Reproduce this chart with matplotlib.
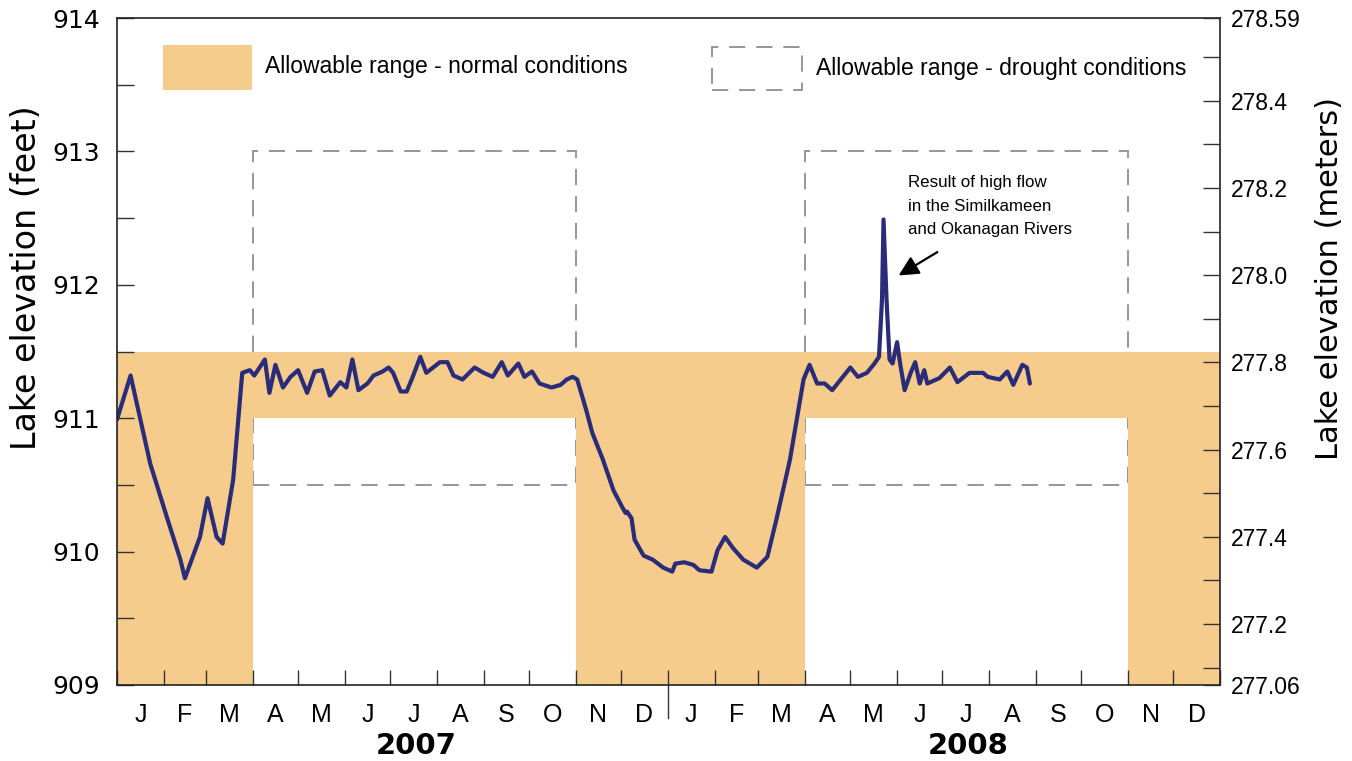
import numpy as np
import matplotlib
matplotlib.use("Agg")
import matplotlib.pyplot as plt
import matplotlib.patches as mpatches
import matplotlib.transforms as mtransforms

# ---------------- data ----------------
# days since 2007-01-01 and lake elevation (feet)
day = [0, 9, 22, 33, 42, 45, 55, 60, 66, 70, 77, 83, 88, 91, 98, 101, 105, 110, 115,
       120, 126, 131, 136, 141, 148, 152, 156, 160, 166, 170, 176, 180, 183, 188, 192,
       196, 201, 205, 214, 219, 223, 229, 237, 243, 249, 255, 259, 266, 270, 275, 280,
       288, 294, 298, 302, 305, 311, 315, 322, 329, 335, 337, 338, 341, 343, 349, 355,
       362, 368, 370, 376, 382, 386, 394, 398, 403, 408, 415, 424, 431, 437, 446, 455,
       459, 464, 469, 474, 486, 491, 497, 502, 505, 507, 508, 510, 512, 514, 517, 519,
       522, 526, 529, 532, 535, 537, 545, 552, 557, 565, 574, 577, 585, 590, 594, 600,
       603, 605]
elev_ft = [910.99, 911.32, 910.66, 910.26, 909.94, 909.80, 910.11, 910.40, 910.11,
           910.06, 910.54, 911.34, 911.36, 911.32, 911.44, 911.19, 911.40, 911.23,
           911.31, 911.36, 911.19, 911.35, 911.36, 911.17, 911.27, 911.23, 911.44,
           911.21, 911.26, 911.32, 911.35, 911.38, 911.34, 911.20, 911.20, 911.31,
           911.46, 911.34, 911.42, 911.42, 911.32, 911.29, 911.38, 911.34, 911.31,
           911.42, 911.32, 911.41, 911.31, 911.35, 911.26, 911.23, 911.25, 911.29,
           911.31, 911.29, 911.06, 910.89, 910.69, 910.46, 910.33, 910.29, 910.30,
           910.25, 910.09, 909.97, 909.94, 909.88, 909.85, 909.91, 909.92, 909.90,
           909.86, 909.85, 910.01, 910.11, 910.03, 909.94, 909.88, 909.96, 910.24,
           910.69, 911.29, 911.40, 911.26, 911.26, 911.21, 911.38, 911.31, 911.34,
           911.41, 911.46, 911.89, 912.49, 911.89, 911.44, 911.41, 911.57, 911.41,
           911.21, 911.34, 911.42, 911.26, 911.36, 911.26, 911.30, 911.38, 911.27,
           911.34, 911.34, 911.31, 911.29, 911.35, 911.25, 911.40, 911.38, 911.26]

# allowable range (normal conditions): period start/end dates and lower bound
normal_start = ["2007-01-01", "2007-04-01", "2007-11-01", "2008-04-01", "2008-11-01"]
normal_end = ["2007-04-01", "2007-11-01", "2008-04-01", "2008-11-01", "2009-01-01"]
normal_low = [909.0, 911.0, 909.0, 911.0, 909.0]
normal_high = 911.5

# allowable range (drought conditions)
drought_start = ["2007-04-01", "2008-04-01"]
drought_end = ["2007-11-01", "2008-11-01"]
drought_low = 910.5
drought_high = 913.0

month_letters = ["J", "F", "M", "A", "M", "J", "J", "A", "S", "O", "N", "D"]
years = ["2007", "2008"]
ft_ticks = [909, 910, 911, 912, 913, 914]
m_labels = ["277.06", "277.2", "277.4", "277.6", "277.8", "278.0", "278.2", "278.4", "278.59"]
FT_TO_M = 0.3048

# ---------------- style ----------------
ORANGE = "#F5CC8B"
NAVY = "#2A2C7A"
GREY = "#8E8E8E"

origin = np.datetime64("2007-01-01")
def dnum(s):
    return float((np.datetime64(s) - origin) / np.timedelta64(1, "D"))

fig = plt.figure(figsize=(13.52, 7.61), dpi=100)
ax = fig.add_axes([117 / 1352, 1 - 685 / 761, (1220 - 117) / 1352, (685 - 18) / 761])
ax.set_axisbelow(False)

xmin, xmax = 0, dnum("2009-01-01")
ymin, ymax = 909, 914
ax.set_xlim(xmin, xmax)
ax.set_ylim(ymin, ymax)

# drought boxes (under the orange band)
for s, e in zip(drought_start, drought_end):
    r = mpatches.Rectangle((dnum(s), drought_low), dnum(e) - dnum(s), drought_high - drought_low,
                           fill=False, edgecolor=GREY, lw=1.3, ls=(0, (9, 6)), zorder=1)
    ax.add_patch(r)

# normal band
for s, e, lo in zip(normal_start, normal_end, normal_low):
    ax.fill_between([dnum(s), dnum(e)], [lo, lo], [normal_high, normal_high],
                    color=ORANGE, lw=0, zorder=2)

ax.plot(day, elev_ft, color=NAVY, lw=3.0, zorder=4, solid_joinstyle="round",
        solid_capstyle="round")

# spines
for sp in ax.spines.values():
    sp.set_linewidth(1.2)
    sp.set_color("#222222")
    sp.set_zorder(5)

# y ticks (feet)
ax.set_yticks(ft_ticks)
ax.set_yticks(np.arange(909.5, 914, 1.0), minor=True)
ax.set_yticklabels([str(t) for t in ft_ticks], fontsize=18, family="DejaVu Sans")
ax.tick_params(axis="y", which="both", direction="in", length=12, width=1.0, pad=12,
               color="#333333")

# x ticks: month boundaries (major, no labels) and month centers (minor, labels)
bounds = np.arange(np.datetime64("2007-01"), np.datetime64("2009-02"), np.timedelta64(1, "M"))
bnum = [float((b.astype("datetime64[D]") - origin) / np.timedelta64(1, "D")) for b in bounds]
ax.set_xticks(bnum)
ax.set_xticklabels([])
mids = [(a + b) / 2 for a, b in zip(bnum[:-1], bnum[1:])]
ax.set_xticks(mids, minor=True)
ax.set_xticklabels(month_letters * 2, minor=True, fontsize=18, family="Liberation Sans")
ax.tick_params(axis="x", which="major", direction="in", length=11, width=1.0, color="#333333")
ax.tick_params(axis="x", which="minor", length=0, pad=13)

# year divider below axis
trans = mtransforms.blended_transform_factory(ax.transData, ax.transAxes)
ax.plot([dnum("2008-01-01")] * 2, [-0.05, 0], color="#333333", lw=1.0, transform=trans,
        clip_on=False, zorder=5)
for yr in years:
    ax.text(dnum(yr + "-07-18"), -0.092, yr, transform=trans, ha="center", va="center",
            fontsize=21, fontweight="bold", family="DejaVu Sans")

ax.set_ylabel("Lake elevation (feet)", fontsize=24, family="DejaVu Sans")
ax.yaxis.set_label_coords(-0.067, 0.61)

# right axis (meters)
ax2 = ax.twinx()
ax2.set_ylim(ymin * FT_TO_M, ymax * FT_TO_M)
ax2.set_yticks([float(v) for v in m_labels])
ax2.set_yticklabels(m_labels, fontsize=16.5, family="Liberation Sans")
ax2.set_yticks(np.arange(277.1, 278.55, 0.2), minor=True)
ax2.tick_params(axis="y", which="both", direction="in", length=12, width=1.0, pad=8,
                color="#333333")
for sp in ax2.spines.values():
    sp.set_visible(False)
ax2.set_ylabel("Lake elevation (meters)", fontsize=22, family="DejaVu Sans")
ax2.yaxis.set_label_coords(1.086, 0.61)

# legend (manual)
ax.add_patch(mpatches.Rectangle((0.0417, 0.892), 0.0807, 0.0675, transform=ax.transAxes,
                                color=ORANGE, lw=0, zorder=3))
ax.text(0.134, 0.928, "Allowable range - normal conditions", transform=ax.transAxes,
        fontsize=16.5, family="Liberation Sans", va="center", ha="left")
ax.add_patch(mpatches.Rectangle((0.5394, 0.892), 0.0816, 0.0645, transform=ax.transAxes,
                                fill=False, edgecolor=GREY, lw=1.3, ls=(0, (9, 6)), zorder=3))
ax.text(0.634, 0.925, "Allowable range - drought conditions", transform=ax.transAxes,
        fontsize=16.5, family="Liberation Sans", va="center", ha="left")

# annotation
ax.annotate("Result of high flow\nin the Similkameen\nand Okanagan Rivers",
            xy=(518, 912.07), xytext=(0.717, 0.764), textcoords="axes fraction",
            fontsize=12.2, family="Liberation Sans",
            ha="left", va="top", linespacing=1.68,
            arrowprops=dict(arrowstyle="-|>", color="black", lw=1.6, mutation_scale=30,
                            shrinkA=0, shrinkB=0, relpos=(0.18, -0.25)))

fig.savefig("out.png", dpi=100)
